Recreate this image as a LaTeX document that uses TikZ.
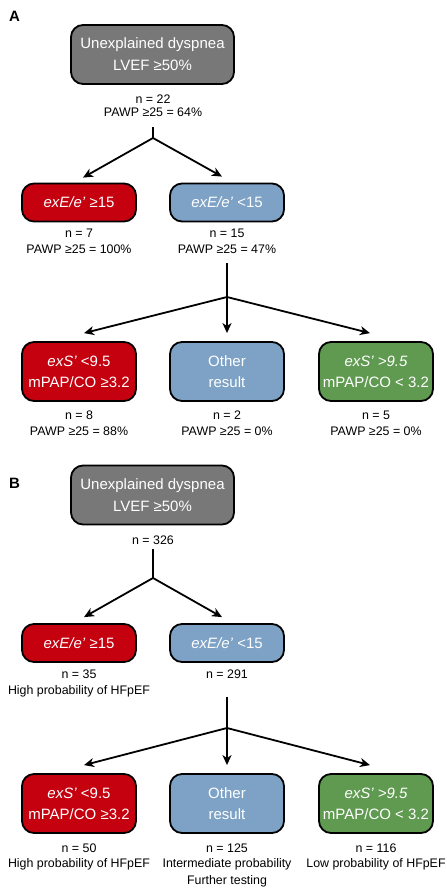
\documentclass[tikz,border=0pt]{standalone}
\usepackage{fontspec}
\setmainfont{Liberation Sans}
\usetikzlibrary{arrows.meta}
\definecolor{boxgray}{HTML}{787878}
\definecolor{boxred}{HTML}{C5000F}
\definecolor{boxblue}{HTML}{7DA2C6}
\definecolor{boxgreen}{HTML}{5F9A50}
\newcommand{\ap}{\symbol{39}}
\begin{document}
\begin{tikzpicture}[x=1pt,y=-1pt,
  box/.style={draw=black, line width=1.8pt, rounded corners=12pt, text=white, align=center, inner sep=0pt, font=\fontsize{15}{22}\selectfont},
  topbox/.style={box, fill=boxgray, minimum width=163pt, minimum height=59pt},
  midbox/.style={box, minimum width=114pt, minimum height=38pt},
  lowbox/.style={box, minimum width=114pt, minimum height=59pt, font=\fontsize{15}{21}\selectfont},
  lbl/.style={anchor=base, inner sep=0pt, font=\fontsize{12.4}{14}\selectfont},
  panel/.style={anchor=base west, inner sep=0pt, font=\fontsize{15}{18}\selectfont\bfseries},
  conn/.style={line width=1.8pt},
  arr/.style={conn, -{Stealth[length=10pt,width=9pt,inset=3pt]}}
]
\useasboundingbox (0,0) rectangle (447,889);

% ---------------- Panel A ----------------
\node[panel] (labA) at (9,21) {A};
\node[topbox] (topA) at (152.5,54.5) {Unexplained dyspnea\\LVEF ≥50\%};
\node[lbl] (nA0) at (153,103.3) {n = 22};
\node[lbl] (pA0) at (153,116.6) {PAWP ≥25 = 64\%};
\coordinate (sA1) at (153,127);
\coordinate (jA1) at (153,138);

\node[midbox, fill=boxred] (redA) at (79,202.5) {\textit{exE/e\ap} ≥15};
\node[midbox, fill=boxblue] (blueA) at (227,202.5) {\textit{exE/e\ap} <15};
\node[lbl] (nA1) at (79,237.3) {n = 7};
\node[lbl] (pA1) at (79,253.3) {PAWP ≥25 = 100\%};
\node[lbl] (nA2) at (227,237.3) {n = 15};
\node[lbl] (pA2) at (227,253.3) {PAWP ≥25 = 47\%};
\coordinate (sA2) at (227,263);
\coordinate (jA2) at (227,297);

\node[lowbox, fill=boxred] (redA2) at (79,371.5) {\textit{exS\ap} <9.5\\mPAP/CO ≥3.2};
\node[lowbox, fill=boxblue] (blueA2) at (227,371.5) {Other\\result};
\node[lowbox, fill=boxgreen] (greenA2) at (376,371.5) {\textit{exS\ap{} >9.5}\\mPAP/CO < 3.2};
\node[lbl] (nA3) at (79,419.3) {n = 8};
\node[lbl] (pA3) at (79,435) {PAWP ≥25 = 88\%};
\node[lbl] (nA4) at (227,419.3) {n = 2};
\node[lbl] (pA4) at (227,435) {PAWP ≥25 = 0\%};
\node[lbl] (nA5) at (376,419.3) {n = 5};
\node[lbl] (pA5) at (376,435) {PAWP ≥25 = 0\%};

\draw[conn] (sA1) -- (jA1);
\draw[arr] (jA1) -- ([xshift=4pt,yshift=5pt]redA.north);
\draw[arr] (jA1) -- ([xshift=-5pt,yshift=6pt]blueA.north);
\draw[conn] (sA2) -- (jA2);
\draw[arr] (jA2) -- ([xshift=5pt,yshift=8pt]redA2.north);
\draw[arr] (jA2) -- ([yshift=8pt]blueA2.north);
\draw[arr] (jA2) -- ([xshift=-6pt,yshift=8pt]greenA2.north);

% ---------------- Panel B ----------------
\node[panel] (labB) at (9,488) {B};
\node[topbox] (topB) at (152.5,495) {Unexplained dyspnea\\LVEF ≥50\%};
\node[lbl] (nB0) at (153,544.3) {n = 326};
\coordinate (sB1) at (153,549);
\coordinate (jB1) at (153,578);

\node[midbox, fill=boxred] (redB) at (79,643) {\textit{exE/e\ap} ≥15};
\node[midbox, fill=boxblue] (blueB) at (227,643) {\textit{exE/e\ap} <15};
\node[lbl] (nB1) at (79,678.3) {n = 35};
\node[lbl] (pB1) at (79,694.3) {High probability of HFpEF};
\node[lbl] (nB2) at (227,678.3) {n = 291};
\coordinate (sB2) at (227,697);
\coordinate (jB2) at (227,728);

\node[lowbox, fill=boxred] (redB2) at (79,803.5) {\textit{exS\ap} <9.5\\mPAP/CO ≥3.2};
\node[lowbox, fill=boxblue] (blueB2) at (227,803.5) {Other\\result};
\node[lowbox, fill=boxgreen] (greenB2) at (376,803.5) {\textit{exS\ap{} >9.5}\\mPAP/CO < 3.2};
\node[lbl] (nB3) at (79,852.3) {n = 50};
\node[lbl] (pB3) at (79,867.3) {High probability of HFpEF};
\node[lbl] (nB4) at (227,852.3) {n = 125};
\node[lbl] (pB4) at (227,867.3) {Intermediate probability};
\node[lbl] (qB4) at (227,884.3) {Further testing};
\node[lbl] (nB5) at (376,852.3) {n = 116};
\node[lbl] (pB5) at (376,867.3) {Low probability of HFpEF};

\draw[conn] (sB1) -- (jB1);
\draw[arr] (jB1) -- ([xshift=5pt,yshift=6pt]redB.north);
\draw[arr] (jB1) -- ([xshift=-5pt,yshift=6pt]blueB.north);
\draw[conn] (sB2) -- (jB2);
\draw[arr] (jB2) -- ([xshift=5pt,yshift=8pt]redB2.north);
\draw[arr] (jB2) -- ([yshift=8pt]blueB2.north);
\draw[arr] (jB2) -- ([xshift=-6pt,yshift=8pt]greenB2.north);
\end{tikzpicture}
\end{document}
